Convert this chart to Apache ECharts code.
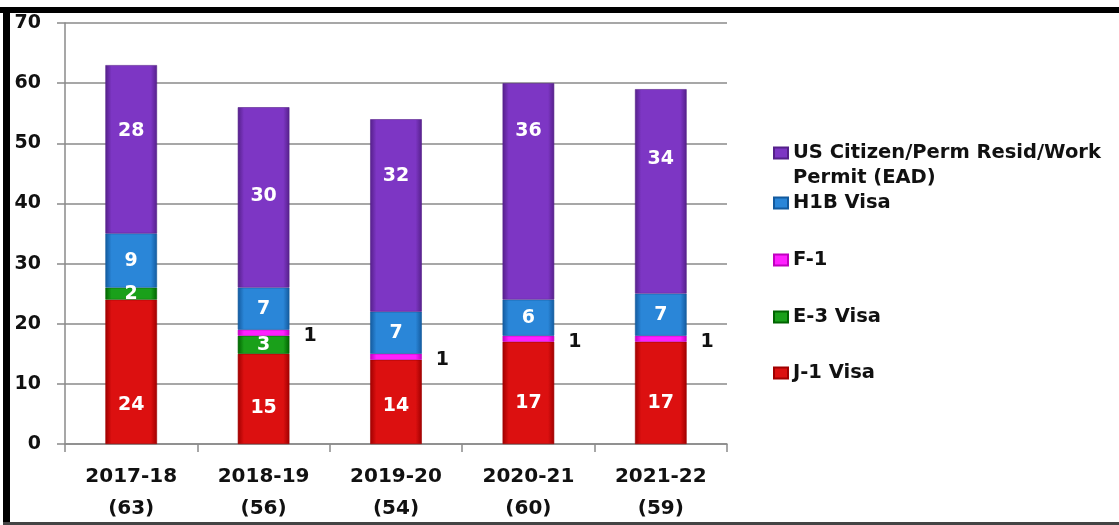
<!DOCTYPE html>
<html>
<head>
<meta charset="utf-8">
<script src="https://cdn.jsdelivr.net/npm/echarts@6/dist/echarts.min.js"></script>
<style>
html,body{margin:0;padding:0;background:#fff;}
#chart{width:1119px;height:525px;}
</style>
</head>
<body>
<div id="chart"></div>
<script>
var categories = ['2017-18\n(63)', '2018-19\n(56)', '2019-20\n(54)', '2020-21\n(60)', '2021-22\n(59)'];
var yTicks = [0, 10, 20, 30, 40, 50, 60, 70];
var j1Visa = [24, 15, 14, 17, 17];
var e3Visa = [2, 3, null, null, null];
var f1 = [null, 1, 1, 1, 1];
var h1bVisa = [9, 7, 7, 6, 7];
var usCitizen = [28, 30, 32, 36, 34];

// label placement tweaks (pixels), as placed in the original
var usLabelShift = [-18, -1, -39, -60, -32];
var j1LabelShift = [33, 9, 4, 10, 10];

var FONT = 'DejaVu Sans';
function grad(edge, mid) {
  return new echarts.graphic.LinearGradient(0, 0, 1, 0, [
    {offset: 0, color: edge},
    {offset: 0.12, color: mid},
    {offset: 0.5, color: mid},
    {offset: 0.88, color: mid},
    {offset: 1, color: edge}
  ]);
}
var inLabel = {
  show: true, position: 'inside', color: '#fff', fontFamily: FONT,
  fontWeight: 'bold', fontSize: 19,
  formatter: function (p) { return p.value; }
};
function withShift(data, shifts) {
  return data.map(function (v, i) {
    return {value: v, label: {offset: [0, shifts[i]]}};
  });
}
function mkSeries(name, data, edge, mid, label) {
  return {
    name: name, type: 'bar', stack: 'total', data: data, barWidth: '39%',
    itemStyle: {color: grad(edge, mid), borderColor: edge, borderWidth: 0.6},
    label: label || inLabel
  };
}
var US = 'US Citizen/Perm Resid/Work Permit (EAD)';
var legendText = {fontFamily: FONT, fontWeight: 'bold', fontSize: 19.5, color: '#111', lineHeight: 24};
function leg(name, top, extra) {
  return {
    data: [name], left: 773, top: top, orient: 'vertical', icon: 'rect', padding: 0,
    itemWidth: 14, itemHeight: 11, selectedMode: false,
    textStyle: Object.assign({}, legendText, extra || {}),
    formatter: function (n) { return n === US ? '\nUS Citizen/Perm Resid/Work\nPermit (EAD)' : n; }
  };
}

var chart = echarts.init(document.getElementById('chart'));
chart.setOption({
  animation: false,
  backgroundColor: '#fff',
  grid: {left: 65, right: 392, top: 23, bottom: 79},
  legend: [
    leg(US, 115.5, {lineHeight: 25}),
    leg('H1B Visa', 191),
    leg('F-1', 248),
    leg('E-3 Visa', 305),
    leg('J-1 Visa', 361)
  ],
  xAxis: {
    type: 'category', data: categories,
    axisLine: {lineStyle: {color: '#8a8a8a', width: 1.5}},
    axisTick: {show: true, length: 8, lineStyle: {color: '#8a8a8a', width: 1.5}},
    axisLabel: {color: '#111', fontFamily: FONT, fontWeight: 'bold', fontSize: 20, lineHeight: 32, margin: 17}
  },
  yAxis: {
    type: 'value', min: yTicks[0], max: yTicks[yTicks.length - 1], interval: 10,
    axisLine: {show: true, lineStyle: {color: '#8a8a8a', width: 1.5}},
    axisTick: {show: true, length: 8, lineStyle: {color: '#8a8a8a', width: 1.5}},
    splitLine: {lineStyle: {color: '#8a8a8a', width: 1.5}},
    axisLabel: {color: '#111', fontFamily: FONT, fontWeight: 'bold', fontSize: 19, margin: 24}
  },
  series: [
    mkSeries('J-1 Visa', withShift(j1Visa, j1LabelShift), '#a00000', '#dc1010'),
    mkSeries('E-3 Visa', e3Visa, '#006400', '#1aa01a'),
    mkSeries('F-1', f1, '#c000c0', '#ff20ff', {
      show: true, position: 'right', distance: 14, color: '#111', fontFamily: FONT,
      fontWeight: 'bold', fontSize: 19, offset: [0, 3], formatter: function (p) { return p.value; }
    }),
    mkSeries('H1B Visa', h1bVisa, '#135a9e', '#2a86d8'),
    mkSeries(US, withShift(usCitizen, usLabelShift), '#55208a', '#7d36c4')
  ],
  graphic: [
    {type: 'rect', shape: {x: 0, y: 7, width: 1119, height: 6}, style: {fill: '#000'}, z: 100},
    {type: 'rect', shape: {x: 3, y: 7, width: 7, height: 516}, style: {fill: '#000'}, z: 100},
    {type: 'rect', shape: {x: 3, y: 522, width: 1116, height: 3}, style: {fill: '#444'}, z: 100}
  ]
});
</script>
</body>
</html>
